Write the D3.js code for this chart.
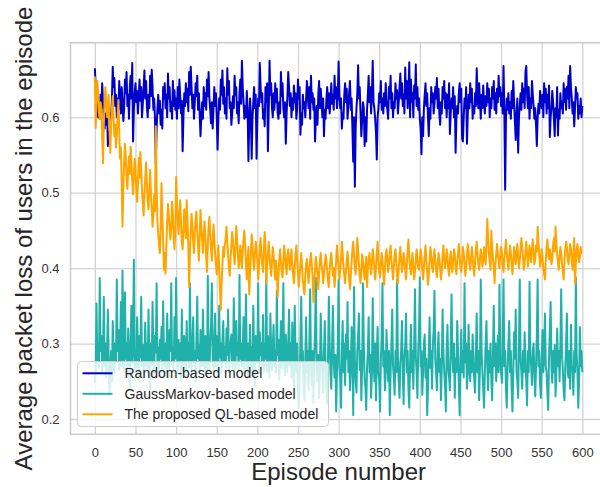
<!DOCTYPE html>
<html><head><meta charset="utf-8">
<script src="https://cdn.jsdelivr.net/npm/d3@7"></script>
<style>body{margin:0;background:#fff}svg text{font-family:"Liberation Sans",Arial,sans-serif}</style>
</head><body><svg id="c" width="600" height="487"></svg>
<script>
// Tick values
const xTicks = [0,50,100,150,200,250,300,350,400,450,500,550,600];
const yTicks = [0.2,0.3,0.4,0.5,0.6];
const seriesNames = ["Random-based model","GaussMarkov-based model","The proposed QL-based model"];
// Average packet loss per episode (episodes 0..600), values in thousandths
const randomLoss = [
665,640,608,622,600,615,598,630,612,645,620,600,585,605,590,612,562,580,570,605,
598,625,667,640,652,615,630,600,625,610,648,622,605,640,620,595,612,650,632,660,
615,630,598,640,655,625,672,568,610,632,645,620,635,605,628,650,622,640,600,618,
640,662,625,648,615,600,630,612,655,628,663,640,610,625,598,538,585,612,630,605,
622,590,610,585,640,625,645,612,630,600,658,625,640,608,620,598,648,615,636,610,
625,598,640,612,650,630,605,622,555,600,632,615,645,620,638,608,660,630,667,640,
612,630,598,620,645,628,655,610,632,605,575,600,620,598,640,615,632,610,650,628,
660,625,610,592,620,585,612,640,615,632,600,557,598,625,610,650,630,662,618,640,
605,625,598,665,630,648,612,620,590,605,628,612,655,630,640,605,620,592,632,650,
618,675,640,620,598,615,600,635,610,542,590,625,605,545,598,620,640,612,630,545,
600,625,615,672,640,620,632,598,610,588,640,620,645,555,610,675,630,645,612,600,
632,610,645,620,638,605,598,620,605,660,628,645,612,600,620,565,605,628,660,640,
615,632,600,625,610,642,620,632,598,612,650,625,640,577,605,590,630,612,620,600,
625,648,630,612,640,598,655,620,632,610,625,568,600,615,590,630,648,612,638,620,
600,625,575,610,598,625,640,612,632,605,622,645,618,630,610,655,625,640,612,628,
674,630,612,625,585,605,598,630,645,620,638,598,615,632,648,610,625,585,541,600,
508,585,612,630,669,625,640,605,575,598,620,612,562,600,568,610,630,655,620,640,
605,632,675,620,612,598,580,544,600,612,632,620,648,610,625,605,632,615,645,620,
610,598,640,625,655,612,632,600,620,612,645,625,636,605,620,640,658,625,645,615,
630,605,666,625,648,612,632,673,600,650,620,632,600,642,625,670,615,640,610,625,
598,585,551,600,575,612,630,645,615,632,600,575,612,598,640,620,632,605,618,640,
625,652,612,638,605,590,620,605,640,625,648,612,632,600,630,612,645,578,605,625,
612,640,600,628,553,598,615,605,632,645,620,638,572,568,600,625,612,640,565,605,
630,612,645,620,638,598,615,605,632,615,665,630,612,645,620,598,630,612,642,620,
605,628,615,645,620,638,600,625,612,640,625,648,610,632,605,638,620,655,628,640,
615,632,605,668,610,504,598,625,610,632,605,620,598,635,612,648,620,595,570,605,
625,553,600,615,632,610,645,620,638,612,660,668,630,612,640,598,625,612,648,630,
615,598,612,590,562,600,618,605,635,620,612,630,600,645,620,638,605,630,612,642,
574,600,612,635,620,598,575,612,600,640,576,610,598,632,612,620,605,645,620,638,
610,640,625,655,612,668,640,625,605,620,588,612,640,625,632,598,615,605,625,600,
615];
const gaussMarkovLoss = [
248,262,353,275,300,268,387,290,310,262,285,362,270,300,255,290,345,280,232,265,
290,250,330,285,262,300,275,385,290,318,265,285,355,270,397,300,262,368,280,300,
262,320,285,240,298,350,275,300,411,262,290,268,335,290,250,310,282,362,270,298,
255,290,328,270,300,262,345,285,238,300,272,355,290,262,310,288,380,270,295,262,
305,280,322,262,356,290,270,300,262,340,285,255,318,290,380,272,295,262,335,280,
387,290,262,305,275,300,250,345,285,262,310,290,258,330,275,300,268,380,290,262,
300,335,272,290,250,305,362,280,298,262,318,285,270,345,290,262,310,282,255,390,
290,265,300,325,380,280,262,300,340,270,310,290,255,350,282,300,262,305,330,275,
295,268,320,285,345,262,290,300,312,268,275,360,290,262,330,285,300,262,391,280,
300,270,290,335,262,305,365,280,255,300,278,325,268,295,262,350,285,245,310,275,
290,380,262,315,285,300,270,338,262,300,280,393,262,310,285,255,340,290,265,298,
325,270,290,262,370,285,305,252,290,330,268,285,380,270,258,312,285,262,300,345,
272,300,255,328,275,240,350,285,262,300,230,215,265,300,362,275,290,240,225,280,
335,262,290,238,300,372,268,245,290,222,280,318,387,270,250,285,228,262,340,290,
262,235,290,330,268,245,220,285,362,300,262,240,298,350,275,255,285,210,262,300,
385,270,255,215,290,330,262,300,245,312,280,355,262,290,238,265,322,290,205,375,
280,250,235,290,310,340,265,290,225,270,380,300,255,242,212,268,290,335,262,285,
228,262,360,285,250,300,225,285,322,262,250,210,280,305,380,270,290,238,262,318,
280,250,290,205,262,300,345,270,255,232,290,262,385,280,250,228,275,290,330,262,
220,280,298,340,262,290,238,215,275,325,262,290,240,300,372,285,262,228,290,318,
388,270,290,232,262,300,312,255,280,205,240,290,335,268,290,240,298,318,370,280,
262,238,290,315,262,280,225,270,345,290,262,245,210,290,325,268,255,238,300,365,
285,262,300,228,280,262,330,290,245,205,275,318,262,290,255,380,275,300,240,262,
325,270,250,290,262,312,280,250,235,290,340,262,290,225,270,385,290,262,240,215,
262,300,330,270,238,290,262,300,250,225,285,350,270,300,250,280,310,262,378,285,
262,248,300,385,270,290,240,215,268,300,330,262,290,240,210,262,315,280,345,262,
250,228,300,385,280,262,240,290,262,315,280,250,218,290,262,382,285,270,245,290,
300,258,230,268,312,385,270,290,245,228,275,318,262,290,340,270,262,235,212,280,
320,355,270,248,290,262,298,230,262,320,270,290,250,300,372,285,265,238,225,268,
300,340,262,255,290,240,325,270,262,232,290,262,388,285,262,215,250,322,270,290,
262];
const qlLoss = [
654,586,625,648,630,605,598,620,612,575,539,590,625,640,618,600,612,630,585,553,
590,612,628,598,575,590,560,578,600,623,580,545,560,515,455,505,540,565,548,520,
505,530,548,525,561,540,515,498,520,545,530,505,488,512,546,520,554,530,505,485,
470,498,520,540,512,490,478,505,530,500,478,455,470,498,475,588,510,462,445,430,
420,450,513,470,440,398,420,393,430,462,485,470,450,438,455,488,470,440,425,450,
521,488,465,445,470,490,460,435,425,448,478,460,440,490,465,430,375,420,450,472,
455,435,420,448,465,475,450,430,410,440,477,455,438,420,445,462,440,415,395,430,
455,468,445,425,410,435,458,440,420,405,392,410,430,400,370,345,380,405,428,415,
430,440,455,435,418,400,390,412,430,448,435,420,405,425,456,440,418,400,412,430,
415,400,425,438,450,430,405,385,410,428,365,395,418,445,430,410,398,420,435,425,
410,385,400,428,440,418,405,395,425,448,430,380,405,420,435,415,400,390,410,428,
418,400,385,410,395,362,390,412,425,408,395,388,410,430,418,402,392,415,425,410,
398,412,425,405,390,380,400,418,430,410,395,375,390,405,420,400,385,372,365,390,
405,412,398,380,395,410,420,405,388,355,380,398,415,405,390,372,392,410,420,405,
395,380,392,405,418,410,395,382,375,398,412,420,405,390,400,375,392,410,430,415,
400,385,398,412,435,420,402,390,380,395,410,422,405,385,372,390,408,425,435,418,
400,392,410,440,425,405,390,380,398,418,410,395,385,402,415,375,398,412,420,405,
392,408,425,415,398,385,400,420,435,412,395,388,405,420,410,395,378,400,418,425,
410,395,405,420,430,412,398,385,402,418,425,408,390,380,400,415,428,410,395,405,
420,412,398,385,405,425,438,415,400,392,408,420,402,385,395,410,425,415,400,398,
410,425,415,398,385,400,418,430,410,395,378,392,410,428,418,402,395,412,425,410,
398,388,405,420,412,400,385,395,418,430,412,400,408,425,415,398,390,410,422,405,
395,412,425,418,400,392,408,420,432,415,400,395,410,428,420,405,390,402,418,432,
420,405,398,412,428,415,400,390,408,425,435,418,405,398,412,425,415,402,410,428,
418,405,430,465,440,420,408,398,450,425,412,400,380,405,418,432,420,408,400,415,
428,420,405,395,412,425,438,420,408,398,415,430,420,405,392,410,428,418,405,420,
432,415,400,410,425,440,428,412,398,408,422,435,418,402,415,430,420,408,425,438,
420,405,412,430,422,455,435,418,402,410,425,415,400,392,385,410,428,438,420,412,
425,418,405,412,430,440,422,455,432,418,408,398,415,428,420,405,395,385,410,425,
435,428,412,405,418,432,425,410,398,420,440,380,405,425,432,418,408,415,428,420,
420];
const seriesColors = ["#0000cd","#20b2aa","#ffa500"];

const series = [randomLoss, gaussMarkovLoss, qlLoss].map((arr,i)=>({
  name: seriesNames[i], color: seriesColors[i],
  values: arr.map((v,ep)=>({ep, loss: v/1000}))
}));

const svg = d3.select("#c");
const L=70.5, R=606.7, T=42.7, B=434.3;
const x = d3.scaleLinear().domain([-30,630]).range([L,R]);
const y = d3.scaleLinear().domain([0.1797,0.6989]).range([B,T]);

const gx = svg.append("g").attr("transform",`translate(0,${B})`)
  .call(d3.axisBottom(x).tickValues(xTicks).tickFormat(d3.format("d")).tickSize(-(B-T)).tickPadding(13));
const gy = svg.append("g").attr("transform",`translate(${L},0)`)
  .call(d3.axisLeft(y).tickValues(yTicks).tickFormat(d3.format(".1f")).tickSize(-(R-L)).tickPadding(11));
[gx,gy].forEach(g=>{
  g.select(".domain").remove();
  g.selectAll(".tick line").attr("stroke","#d3d3d3").attr("stroke-width",1.3);
  g.selectAll(".tick text").attr("fill","#333").attr("font-size",13);
});

svg.append("rect").attr("x",L).attr("y",T).attr("width",R-L).attr("height",B-T)
  .attr("fill","none").attr("stroke","#cccccc").attr("stroke-width",1.6);

svg.append("clipPath").attr("id","clip").append("rect")
  .attr("x",L).attr("y",T).attr("width",R-L).attr("height",B-T);

const line = d3.line().x(d=>x(d.ep)).y(d=>y(d.loss));
svg.append("g").attr("clip-path","url(#clip)").selectAll("path").data(series).join("path")
  .attr("d",d=>line(d.values)).attr("fill","none").attr("stroke",d=>d.color)
  .attr("stroke-width",2).attr("stroke-linejoin","round");

const lg = svg.append("g");
lg.append("rect").attr("x",77.5).attr("y",361.5).attr("width",251).attr("height",65).attr("rx",4)
  .attr("fill","#fff").attr("fill-opacity",0.8).attr("stroke","#cccccc").attr("stroke-width",1);
series.forEach((s,i)=>{
  const yy = 373.3 + i*20.5;
  lg.append("line").attr("x1",82.5).attr("x2",112.5).attr("y1",yy).attr("y2",yy)
    .attr("stroke",s.color).attr("stroke-width",2);
  lg.append("text").attr("x",124.5).attr("y",yy).attr("dy","0.35em")
    .attr("font-size",14).attr("fill","#262626").text(s.name);
});

svg.append("text").attr("x",(L+R)/2).attr("y",480).attr("text-anchor","middle")
  .attr("font-size",24).attr("fill","#262626").text("Episode number");
svg.append("text").attr("transform",`translate(32,${(T+B)/2}) rotate(-90)`).attr("text-anchor","middle")
  .attr("font-size",24).attr("fill","#262626").text("Average packet loss of users in the episode");
</script></body></html>
